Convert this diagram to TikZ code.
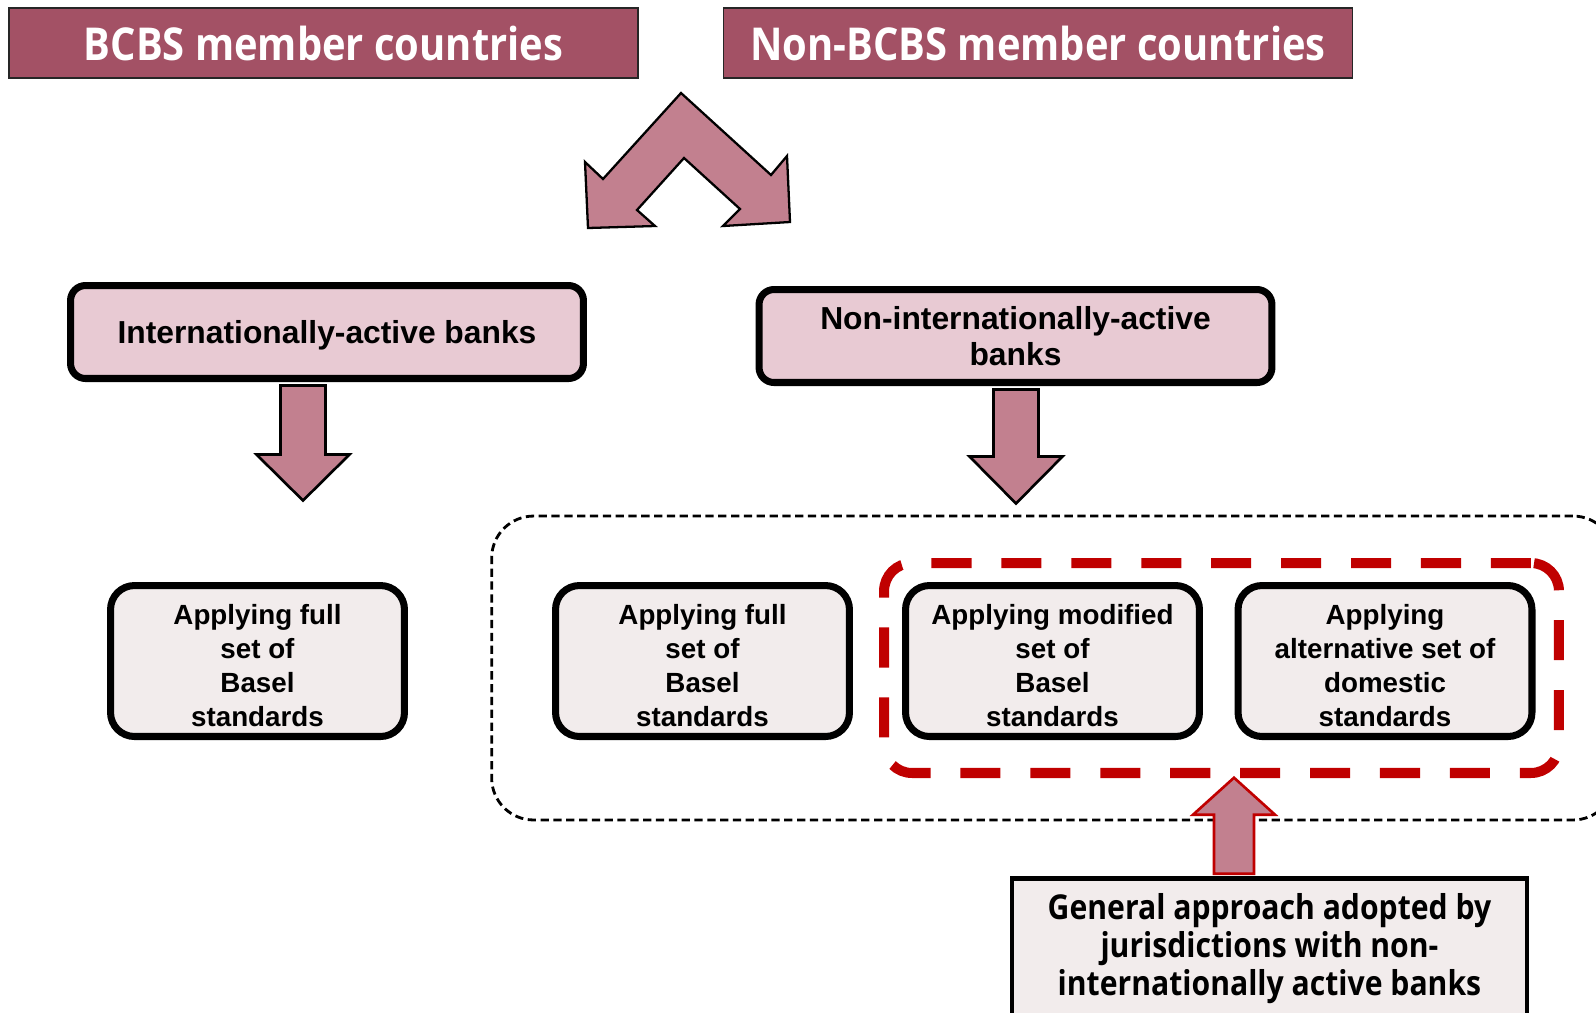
\documentclass[tikz,border=0pt]{standalone}
\usepackage{fontspec}
\setmainfont{Liberation Sans}
\newfontfamily\headfont[FakeStretch=0.88]{Open Sans}
\usetikzlibrary{positioning,calc}

\definecolor{bcbsred}{RGB}{163,81,101}
\definecolor{arrowpink}{RGB}{194,128,143}
\definecolor{banksfill}{RGB}{232,202,211}
\definecolor{stdfill}{RGB}{242,236,236}
\definecolor{groupred}{RGB}{192,0,0}

% extra room above the first line of a box
\newcommand\boxstrut{\rule{0pt}{17pt}}

\begin{document}
\begin{tikzpicture}
[x=0.02cm, y=-0.02cm, line join=miter,
header/.style={rectangle, draw=black!85, line width=0.9pt, fill=bcbsred, text=white, minimum width=12.58cm, minimum height=1.4cm, font=\headfont\bfseries\fontsize{25.8}{30}\selectfont},
banks/.style={rectangle, rounded corners=0.3cm, draw, line width=4pt, fill=banksfill, minimum width=10.26cm, minimum height=1.86cm, align=center, font=\bfseries\fontsize{18.1}{20.8}\selectfont},
stdbox/.style={rectangle, rounded corners=0.48cm, draw, line width=4pt, fill=stdfill, minimum width=5.88cm, minimum height=3.02cm, align=center, font=\bfseries\fontsize{15.8}{19.3}\selectfont},
blockarrow/.style={draw, line width=1.5pt, fill=arrowpink},
notebox/.style={rectangle, draw, line width=2.6pt, fill=stdfill, minimum width=10.3cm, minimum height=2.8cm, align=center, font=\headfont\bfseries\fontsize{19.5}{21.6}\selectfont}
]
\useasboundingbox (0,0) rectangle (1596,1012);

% member groups
\node[header] (bcbs) at (323.5,43) {BCBS member countries};
\node[header] (nonbcbs) at (1038,43) {Non-BCBS member countries};

% split arrow
\draw[blockarrow, line width=1.3pt] (681,93) -- (771,175) -- (787,156) -- (790,222) -- (723,226)
  -- (740,209) -- (684,158) -- (637,210) -- (655,226) -- (588,228) -- (585,162) -- (603,179) -- cycle;

% bank types
\node[banks] (ia) at (327,332) {\boxstrut Internationally-active banks};
\node[banks] (nia) at (1015.5,336) {Non-internationally-active\\banks};

% down arrows
\draw[blockarrow] ($(ia.south)+(-24,3.5)$) ++(-22.5,0) -- ++(0,69) -- ++(-24,0) -- ++(46.5,46)
  -- ++(46.5,-46) -- ++(-24,0) -- ++(0,-69) -- cycle;
\draw[blockarrow] ($(nia.south)+(0.5,3.5)$) ++(-22.5,0) -- ++(0,67) -- ++(-24,0) -- ++(46.5,47)
  -- ++(46.5,-47) -- ++(-24,0) -- ++(0,-67) -- cycle;

% frames
\node[draw, line width=1.6pt, dash pattern=on 4.7pt off 2.6pt, rounded corners=0.84cm,
  minimum width=22.47cm, minimum height=6.08cm] (nonint) at (1053.3,668) {};
\node[draw=groupred, line width=5.7pt, dash pattern=on 22.8pt off 17pt, rounded corners=0.56cm,
  minimum width=13.5cm, minimum height=4.2cm] (grp) at (1221.5,668) {};

% standards
\node[stdbox] (full1) at (257.5,661) {\boxstrut Applying full\\set of\\Basel\\standards};
\node[stdbox] (full2) at (702.5,661) {\boxstrut Applying full\\set of\\Basel\\standards};
\node[stdbox] (modif) at (1052.5,661) {\boxstrut Applying modified\\set of\\Basel\\standards};
\node[stdbox] (altern) at (1385,661) {\boxstrut Applying\\alternative set of\\domestic\\standards};

% general approach
\node[notebox, anchor=north] (note) at (1269.5,876) {General approach adopted by\\jurisdictions with non-\\internationally active banks};
\draw[blockarrow, draw=groupred] ($(note.north)+(-35.5,-2.3)$) ++(-20,0) -- ++(0,-59) -- ++(-21,0) -- ++(41,-37)
  -- ++(41,37) -- ++(-21,0) -- ++(0,59) -- cycle;
\end{tikzpicture}
\end{document}
